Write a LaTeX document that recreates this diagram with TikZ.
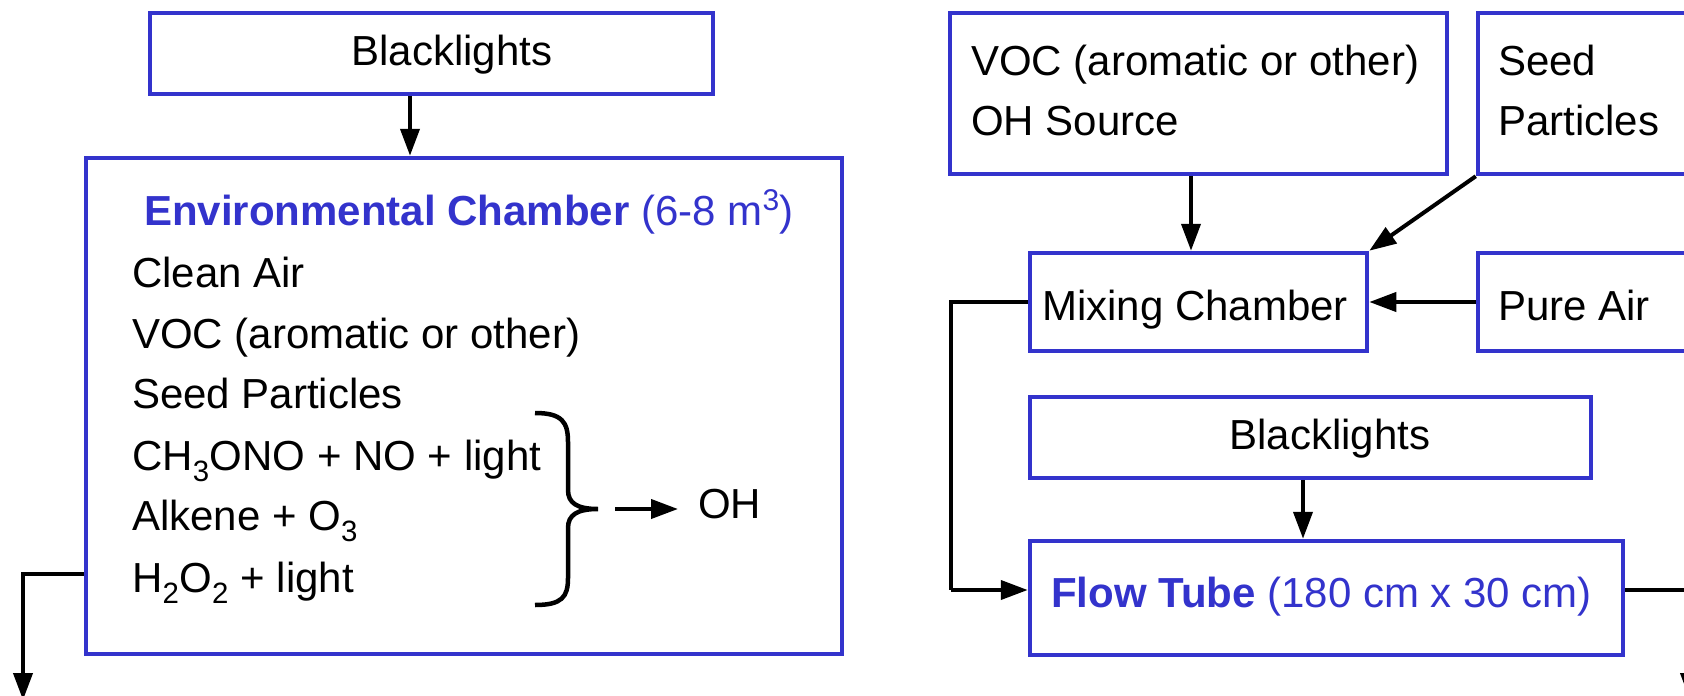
\documentclass[tikz,border=0pt]{standalone}
\usepackage{fontspec}
\setmainfont{Liberation Sans}
\usetikzlibrary{arrows.meta}
\definecolor{boxblue}{RGB}{51,51,204}
\begin{document}
\begin{tikzpicture}[x=1pt,y=-1pt,
  every node/.style={font=\fontsize{42}{50}\selectfont},
  boxnode/.style={draw=boxblue,line width=4.5pt,rectangle,inner sep=0pt},
  txt/.style={anchor=base west,inner sep=0pt},
  ctxt/.style={anchor=base,inner sep=0pt},
  arr/.style={line width=4pt,-{Triangle[length=27pt,width=19pt]}},
  ln/.style={line width=4pt}]
\useasboundingbox (0,0) rectangle (1684,696);
% boxes
\node[boxnode,minimum width=563pt,minimum height=81pt] (bl1) at (431.5,53.5) {};
\node[boxnode,minimum width=756pt,minimum height=496pt] (env) at (464,406) {};
\node[boxnode,minimum width=497pt,minimum height=161pt] (voc) at (1198.5,93.5) {};
\node[boxnode,minimum width=322pt,minimum height=161pt] (seed) at (1639,93.5) {};
\node[boxnode,minimum width=337pt,minimum height=98pt] (mix) at (1198.5,302) {};
\node[boxnode,minimum width=322pt,minimum height=98pt] (pure) at (1639,302) {};
\node[boxnode,minimum width=561pt,minimum height=81pt] (bl2) at (1310.5,437.5) {};
\node[boxnode,minimum width=593pt,minimum height=114pt] (flow) at (1326.5,598) {};
% texts
\node[ctxt] (t-bl1) at (452,65) {Blacklights};
\node[txt,text=boxblue] (t-env) at (144,225) {\bfseries Environmental Chamber \mdseries(6-8 m{\fontsize{30}{30}\selectfont\raisebox{15pt}{3}})};
\node[txt] (t-l1) at (132,287) {Clean Air};
\node[txt] (t-l2) at (132,348) {VOC (aromatic or other)};
\node[txt] (t-l3) at (132,408) {Seed Particles};
\node[txt] (t-l4) at (132,470) {CH\textsubscript{3}ONO + NO + light};
\node[txt] (t-l5) at (132,530) {Alkene + O\textsubscript{3}};
\node[txt] (t-l6) at (132,592) {H\textsubscript{2}O\textsubscript{2} + light};
\node[txt] (oh) at (698,518) {OH};
\node[txt] (t-voc1) at (971,75) {VOC (aromatic or other)};
\node[txt] (t-voc2) at (971,135) {OH Source};
\node[txt] (t-seed1) at (1498,75) {Seed};
\node[txt] (t-seed2) at (1498,135) {Particles};
\node[txt] (t-mix) at (1042,320) {Mixing Chamber};
\node[txt] (t-pure) at (1498,320) {Pure Air};
\node[ctxt] (t-bl2) at (1330,449) {Blacklights};
\node[txt,text=boxblue] (t-flow) at (1051,607) {\bfseries Flow Tube \mdseries(180 cm x 30 cm)};
% brace
\draw[line width=4.5pt] (535,413) .. controls (562,413) and (568,422) .. (568,442) -- (568,490)
  .. controls (568,503) and (577,509) .. (598,509)
  .. controls (577,509) and (568,515) .. (568,528) -- (568,578)
  .. controls (568,597) and (562,605) .. (535,605);
\coordinate (brtip) at (615,509);
\draw[arr,shorten >=20pt] (brtip) -- (oh.west |- brtip);
% connectors
\coordinate (a1) at (410,0);
\draw[arr] (bl1.south -| a1) -- (env.north -| a1);
\coordinate (outL) at (23,700);
\coordinate (exL) at (0,574);
\draw[arr] (env.west |- exL) -| (outL);
\coordinate (a2) at (1191,0);
\draw[arr] (voc.south -| a2) -- (mix.north -| a2);
\draw[arr] (seed.south west) -- (mix.north east);
\draw[arr] (pure.west) -- (mix.east);
\coordinate (lb) at (951,590);
\draw[ln] (mix.west) -| (lb);
\draw[arr] (lb) -- (flow.west |- lb);
\coordinate (a3) at (1303,0);
\draw[arr] (bl2.south -| a3) -- (flow.north -| a3);
\coordinate (outR) at (1690,700);
\draw[arr] (flow.east |- lb) -| (outR);
\end{tikzpicture}
\end{document}
